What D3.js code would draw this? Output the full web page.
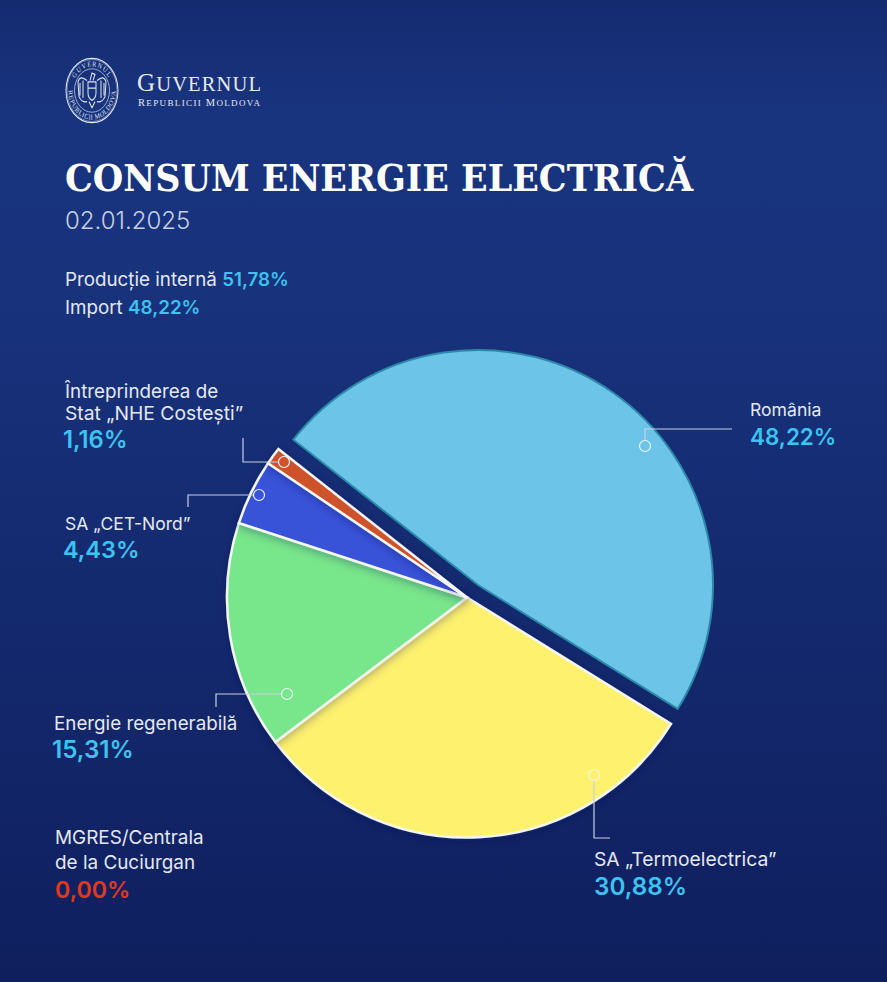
<!DOCTYPE html>
<html>
<head>
<meta charset="utf-8">
<script src="https://cdn.jsdelivr.net/npm/d3@7"></script>
<style>
    html, body { margin: 0; padding: 0; background: #14296b; }
    svg { display: block; }
    text { font-family: Inter, "Noto Sans", sans-serif; }
    .label { fill: #e4e8f2; font-size: 19px; font-weight: 400; }
    .pct { font-size: 24px; font-weight: 600; }
    .leader { fill: none; stroke: #c6d0e2; stroke-width: 1.2; }
    .dot { fill: none; stroke: #eef3f8; stroke-width: 1.2; }
</style>
</head>
<body>
<div id="chart"></div>
<script>
// values
const titleText = "CONSUM ENERGIE ELECTRICĂ";
const dateText = "02.01.2025";
const summaryNames = ["Producție internă", "Import"];
const summaryValues = [51.78, 48.22];
const sources = ["România", "SA „Termoelectrica”", "Energie regenerabilă", "SA „CET-Nord”", "Întreprinderea de Stat „NHE Costești”", "MGRES/Centrala de la Cuciurgan"];
const shares = [48.22, 30.88, 15.31, 4.43, 1.16, 0.00];

const width = 887, height = 982;
const pct = v => v.toFixed(2).replace(".", ",") + "%";
const deg = a => a * Math.PI / 180;

const sliceColor = d3.scaleOrdinal()
    .domain(sources)
    .range(["#6cc4e8", "#fef16e", "#78e68a", "#3753d8", "#cf5229", "#e03a1e"]);

const svg = d3.select("#chart").append("svg")
    .attr("width", width)
    .attr("height", height);

// background
const defs = svg.append("defs");
const bg = defs.append("linearGradient")
    .attr("id", "bg")
    .attr("x1", 0).attr("y1", 0).attr("x2", 0).attr("y2", 1);
[[0, "#142b70"], [0.12, "#19347f"], [0.3, "#18327c"], [0.6, "#142a6f"], [1, "#0f1f5e"]].forEach(s => {
    bg.append("stop").attr("offset", s[0]).attr("stop-color", s[1]);
});
const shadow = defs.append("filter")
    .attr("id", "soft")
    .attr("x", "-20%").attr("y", "-20%").attr("width", "140%").attr("height", "140%");
shadow.append("feDropShadow")
    .attr("dx", 0).attr("dy", 2)
    .attr("stdDeviation", 5)
    .attr("flood-color", "#10205a")
    .attr("flood-opacity", 0.35);
svg.append("rect").attr("width", width).attr("height", height).attr("fill", "url(#bg)");

// logo, the seal is a tall oval
const logo = svg.append("g").attr("transform", "translate(92,90.5) scale(1,1.24)");
const ink = "#dfe5f0";
logo.append("circle").attr("r", 26).attr("fill", "none").attr("stroke", ink).attr("stroke-width", 1);
logo.append("circle").attr("r", 25).attr("fill", "none").attr("stroke", ink).attr("stroke-width", 0.4);
logo.append("circle").attr("r", 17.5).attr("fill", "none").attr("stroke", ink).attr("stroke-width", 0.6);
defs.append("path").attr("id", "ringTop").attr("d", "M-19.5,0 A19.5,19.5 0 0 1 19.5,0");
defs.append("path").attr("id", "ringBottom").attr("d", "M-23.5,0 A23.5,23.5 0 0 0 23.5,0");
logo.append("text").attr("font-size", 6).attr("fill", ink).attr("text-anchor", "middle")
    .style("font-family", "'Liberation Serif', serif")
    .append("textPath").attr("href", "#ringTop").attr("startOffset", "50%").attr("letter-spacing", 1).text("GUVERNUL");
logo.append("text").attr("font-size", 6).attr("fill", ink).attr("text-anchor", "middle")
    .style("font-family", "'Liberation Serif', serif")
    .append("textPath").attr("href", "#ringBottom").attr("startOffset", "50%").attr("letter-spacing", 0.5).text("REPUBLICII MOLDOVA");
// eagle and shield, simplified
logo.append("path")
    .attr("d", "M-4,-7 L4,-7 L4,2 Q4,6 0,8 Q-4,6 -4,2 Z M-4,-2 L4,-2")
    .attr("fill", "none").attr("stroke", ink).attr("stroke-width", 1);
logo.append("path")
    .attr("d", "M-5,-8 Q-12,-13 -14,-7 L-13,5 Q-10,10 -5,9 M5,-8 Q12,-13 14,-7 L13,5 Q10,10 5,9 M-9,-8 L-9,6 M-12,-6 L-12,4 M9,-8 L9,6 M12,-6 L12,4 M-2,-8 L0,-14 L3,-13 L1,-8 M-3,9 L0,14 L3,9")
    .attr("fill", "none").attr("stroke", ink).attr("stroke-width", 1);

const brand = svg.append("text")
    .attr("x", 137).attr("y", 90.5)
    .attr("textLength", 124)
    .attr("lengthAdjust", "spacing")
    .attr("fill", "#e6eaf3")
    .style("font-family", "'Liberation Serif', serif");
brand.append("tspan").attr("font-size", 25).text("G");
brand.append("tspan").attr("font-size", 20.5).text("UVERNUL");
const brandSub = svg.append("text")
    .attr("x", 138).attr("y", 105.5)
    .attr("textLength", 122)
    .attr("lengthAdjust", "spacing")
    .attr("fill", "#e6eaf3")
    .style("font-family", "'Liberation Serif', serif");
brandSub.append("tspan").attr("font-size", 10.5).text("R");
brandSub.append("tspan").attr("font-size", 9).text("EPUBLICII ");
brandSub.append("tspan").attr("font-size", 10.5).text("M");
brandSub.append("tspan").attr("font-size", 9).text("OLDOVA");

// title block
svg.append("text")
    .attr("x", 65).attr("y", 191)
    .attr("textLength", 628)
    .attr("lengthAdjust", "spacingAndGlyphs")
    .attr("fill", "#ffffff")
    .attr("font-size", 38)
    .attr("font-weight", 700)
    .style("font-family", "'DejaVu Serif', serif")
    .text(titleText);
svg.append("text")
    .attr("x", 65).attr("y", 229)
    .attr("fill", "#c6cfe2")
    .attr("font-size", 24)
    .attr("font-weight", 300)
    .text(dateText);

summaryNames.forEach((name, i) => {
    const line = svg.append("text")
        .attr("class", "label")
        .attr("x", 65)
        .attr("y", 285.5 + i * 28)
        .style("font-size", "18.8px");
    line.append("tspan").text(name + " ");
    line.append("tspan").attr("fill", "#3dc3f0").attr("font-weight", 600).text(pct(summaryValues[i]));
});

// pie
const pieData = d3.pie()
    .sort(null)
    .startAngle(deg(-51.8))
    .endAngle(deg(308.2))
    .value(d => d.share)(sources.map((name, i) => ({name: name, share: shares[i]})));

const arc = d3.arc().innerRadius(0).outerRadius(240);
const arcOut = d3.arc().innerRadius(0).outerRadius(235);

const pieG = svg.append("g").attr("transform", "translate(467,597.5)");

pieG.selectAll(".slice")
    .data(pieData.slice(1).filter(d => d.value > 0))
    .enter()
    .append("path")
    .attr("class", "slice")
    .attr("d", arc)
    .attr("fill", d => sliceColor(d.data.name))
    .attr("stroke", "#f4f6f6")
    .attr("stroke-width", 2.5)
    .attr("stroke-linejoin", "miter")
    .attr("filter", "url(#soft)");

svg.append("g")
    .attr("transform", "translate(478,585)")
    .selectAll(".slice-out")
    .data(pieData.slice(0, 1))
    .enter()
    .append("path")
    .attr("class", "slice-out")
    .attr("d", arcOut)
    .attr("fill", d => sliceColor(d.data.name))
    .attr("stroke", "#2b8aa8")
    .attr("stroke-width", 2);

// leader lines, one per slice label
const leaders = [
    {dot: [645, 446], path: "M645,440.5 V429 H732"},
    {dot: [594, 775], path: "M594,780.5 V838 H610"},
    {dot: [287, 694], path: "M281.5,694 H216 V707"},
    {dot: [259, 495], path: "M253.5,495 H188 V507"},
    {dot: [284, 462], path: "M278.5,462 H243 V438"}
];
svg.selectAll(".leader")
    .data(leaders)
    .enter()
    .append("path")
    .attr("class", "leader")
    .attr("d", d => d.path);
svg.selectAll(".dot")
    .data(leaders)
    .enter()
    .append("circle")
    .attr("class", "dot")
    .attr("cx", d => d.dot[0])
    .attr("cy", d => d.dot[1])
    .attr("r", 5.5);

// slice labels, sizes follow the widths measured on the picture
const labelLayout = [
    {x: 750, px: 750, py: 444.5, lines: ["România"], ys: [415.5], fs: [17.6], ps: 22.4},
    {x: 594, px: 594, py: 895, lines: ["SA „Termoelectrica”"], ys: [865.5], fs: [19.3], ps: 24.2},
    {x: 54, px: 52, py: 758, lines: ["Energie regenerabilă"], ys: [729.5], fs: [18.8], ps: 24.2},
    {x: 65, px: 63, py: 558, lines: ["SA „CET-Nord”"], ys: [529.5], fs: [17.5], ps: 23.5},
    {x: 65, px: 63, py: 447.5, lines: ["Întreprinderea de", "Stat „NHE Costești”"], ys: [397.5, 419.8], fs: [18.8, 19.3], ps: 23.8},
    {x: 55, px: 55, py: 898, lines: ["MGRES/Centrala", "de la Cuciurgan"], ys: [843.5, 868.5], fs: [18.9, 18.9], ps: 23.2}
];
labelLayout.forEach((l, i) => {
    l.lines.forEach((t, j) => {
        svg.append("text")
            .attr("class", "label")
            .attr("x", l.x)
            .attr("y", l.ys[j])
            .style("font-size", l.fs[j] + "px")
            .text(t);
    });
    svg.append("text")
        .attr("class", "pct")
        .attr("x", l.px)
        .attr("y", l.py)
        .style("font-size", l.ps + "px")
        .attr("fill", shares[i] > 0 ? "#3dc3f0" : "#e03a1e")
        .text(pct(shares[i]));
});
</script>
</body>
</html>
